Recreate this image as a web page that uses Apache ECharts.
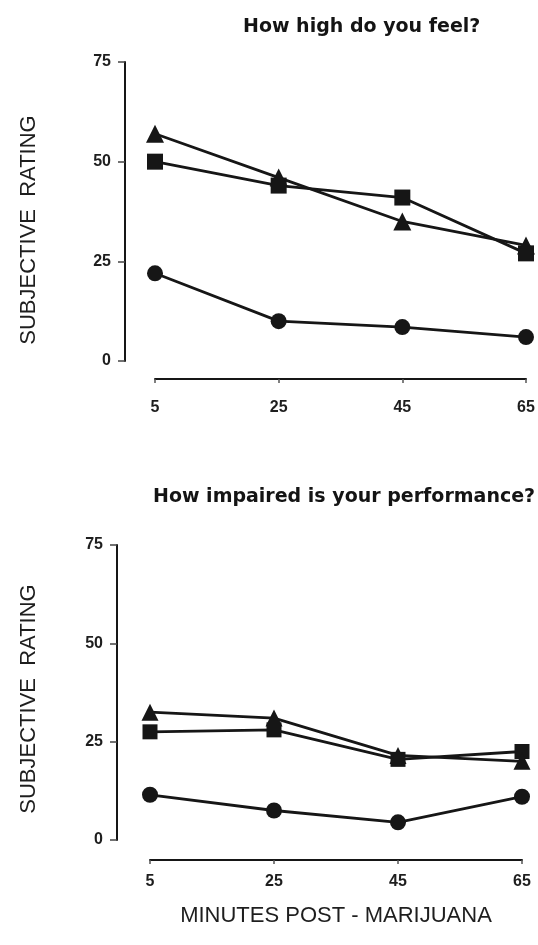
<!DOCTYPE html>
<html>
<head>
<meta charset="utf-8">
<script src="https://cdn.jsdelivr.net/npm/echarts@6/dist/echarts.min.js"></script>
<style>
  html, body { margin: 0; padding: 0; background: #ffffff; }
  #chart { width: 538px; height: 945px; }
</style>
</head>
<body>
<div id="chart"></div>
<script>
// Minutes after smoking, shared by both panels
const times = ['5', '25', '45', '65'];

// "How high do you feel?"
const highTriangle = [57, 46, 35, 29];
const highSquare   = [50, 44, 41, 27];
const highCircle   = [22, 10, 8.5, 6];

// "How impaired is your performance?"
const impairTriangle = [32.5, 31, 21.5, 20];
const impairSquare   = [27.5, 28, 20.5, 22.5];
const impairCircle   = [11.5, 7.5, 4.5, 11];

const yTicks = { min: 0, max: 75, interval: 25 };

const ink = '#161616';
const labelFont = { color: '#1e1e1e', fontFamily: 'Liberation Sans', fontWeight: 'bold', fontSize: 16 };

function xAxisFor(gridIndex, offset, labelMargin, withName) {
  const ax = {
    type: 'category',
    gridIndex: gridIndex,
    data: times,
    boundaryGap: false,
    offset: offset,
    axisLine: { onZero: false, lineStyle: { color: ink, width: 2 } },
    axisTick: { length: 4, lineStyle: { color: '#555', width: 1.5 } },
    axisLabel: Object.assign({ margin: labelMargin }, labelFont),
    splitLine: { show: false }
  };
  if (withName) {
    ax.name = 'MINUTES POST - MARIJUANA';
    ax.nameLocation = 'middle';
    ax.nameGap = 45;
    ax.nameTextStyle = { color: '#1e1e1e', fontFamily: 'Liberation Sans', fontSize: 22, verticalAlign: 'top' };
  }
  return ax;
}

function yAxisFor(gridIndex, offset) {
  return {
    type: 'value',
    gridIndex: gridIndex,
    min: yTicks.min,
    max: yTicks.max,
    interval: yTicks.interval,
    offset: offset,
    axisLine: { show: true, onZero: false, lineStyle: { color: ink, width: 2 } },
    axisTick: { show: true, length: 7, lineStyle: { color: '#444', width: 1.5 } },
    axisLabel: Object.assign({ margin: 14 }, labelFont),
    splitLine: { show: false }
  };
}

function lineSeries(data, symbol, size, axisIndex) {
  return {
    type: 'line',
    data: data,
    xAxisIndex: axisIndex,
    yAxisIndex: axisIndex,
    symbol: symbol,
    symbolSize: size,
    showSymbol: true,
    lineStyle: { color: ink, width: 2.8 },
    itemStyle: { color: ink, borderColor: ink, borderWidth: 0 },
    emphasis: { disabled: true },
    z: 3
  };
}

const chart = echarts.init(document.getElementById('chart'), null, { renderer: 'canvas' });

const titleStyle = { color: '#141414', fontFamily: 'DejaVu Sans', fontWeight: 'bold', fontSize: 19 };
const axisNameStyle = { fill: '#1e1e1e', font: '22px "Liberation Sans"', textAlign: 'center', textVerticalAlign: 'middle' };

chart.setOption({
  backgroundColor: '#ffffff',
  animation: false,
  title: [
    { text: 'How high do you feel?', left: 243, top: 18, textStyle: titleStyle, padding: 0 },
    { text: 'How impaired is your performance?', left: 153, top: 488, textStyle: titleStyle, padding: 0 }
  ],
  grid: [
    { left: 155, right: 12, top: 62, height: 299 },
    { left: 150, right: 16, top: 545, height: 295 }
  ],
  xAxis: [xAxisFor(0, 18, 21, false), xAxisFor(1, 20, 14, true)],
  yAxis: [yAxisFor(0, 30), yAxisFor(1, 33)],
  graphic: [
    { type: 'text', x: 29, y: 230, rotation: Math.PI / 2, style: Object.assign({ text: 'SUBJECTIVE  RATING' }, axisNameStyle) },
    { type: 'text', x: 29, y: 699, rotation: Math.PI / 2, style: Object.assign({ text: 'SUBJECTIVE  RATING' }, axisNameStyle) }
  ],
  series: [
    lineSeries(highCircle, 'circle', 16, 0),
    lineSeries(highSquare, 'rect', 16, 0),
    lineSeries(highTriangle, 'triangle', 18, 0),
    lineSeries(impairCircle, 'circle', 16, 1),
    lineSeries(impairSquare, 'rect', 15, 1),
    lineSeries(impairTriangle, 'triangle', 17, 1)
  ]
});
</script>
</body>
</html>
